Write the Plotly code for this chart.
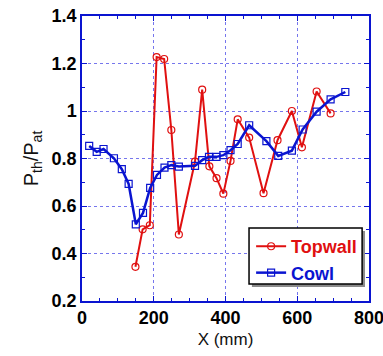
import plotly.graph_objects as go

cowl_x = [20, 41, 60, 89, 111, 130, 150, 170, 190, 209, 230, 249, 270, 315, 335, 354, 375, 394, 414, 434, 466, 514, 547, 585, 615, 654, 693, 734]
cowl_y = [0.853, 0.828, 0.840, 0.801, 0.755, 0.693, 0.523, 0.571, 0.676, 0.731, 0.762, 0.772, 0.766, 0.769, 0.793, 0.807, 0.807, 0.814, 0.835, 0.861, 0.940, 0.873, 0.811, 0.833, 0.922, 0.997, 1.049, 1.080]

top_x = [149, 169, 189, 208, 229, 249, 270, 315, 335, 355, 375, 394, 414, 434, 466, 506, 545, 585, 613, 654, 693]
top_y = [0.344, 0.502, 0.519, 1.227, 1.219, 0.920, 0.480, 0.787, 1.090, 0.767, 0.717, 0.652, 0.790, 0.965, 0.888, 0.654, 0.877, 1.000, 0.847, 1.082, 0.990]

red = "#e01010"
blue = "#0a14d0"

fig = go.Figure()
fig.add_trace(go.Scatter(x=top_x, y=top_y, name=f"<span style='color:{red}'>Topwall</span>", mode="lines+markers",
                         line=dict(color=red, width=2),
                         marker=dict(symbol="circle-open", size=7, color=red, line=dict(width=1.2))))
fig.add_trace(go.Scatter(x=cowl_x, y=cowl_y, name=f"<span style='color:{blue}'>Cowl</span>", mode="lines+markers",
                         line=dict(color=blue, width=2.5),
                         marker=dict(symbol="square-open", size=7, color=blue, line=dict(width=1.2))))

axis_common = dict(showline=True, linecolor=blue, linewidth=1.5, mirror="ticks",
                   ticks="inside", tickcolor=blue, ticklen=5, automargin=False,
                   ticklabeloverflow="allow",
                   showgrid=True, gridcolor="rgba(60,60,230,0.7)", griddash="dot", gridwidth=1,
                   zeroline=False,
                   tickfont=dict(family="Liberation Sans", size=18, color="black", weight="bold"))

fig.update_xaxes(range=[0, 800], dtick=200, **axis_common,
                 minor=dict(dtick=50, ticks="inside", ticklen=3, tickcolor=blue, showgrid=False),
                 title=dict(text="X (mm)", font=dict(family="Liberation Sans", size=17, color="#111"), standoff=6))
fig.update_yaxes(range=[0.2, 1.4], dtick=0.2, **axis_common,
                 minor=dict(dtick=0.1, ticks="inside", ticklen=3, tickcolor=blue, showgrid=False),
                 title=dict(text="P<sub>th</sub>/P<sub>at</sub>", font=dict(family="Liberation Sans", size=20, color="#111"), standoff=8))

# legend box with drop shadow (drawn as shapes, legend itself transparent)
fig.add_shape(type="rect", xref="paper", yref="paper", x0=0.592, x1=0.986, y0=0.049, y1=0.246,
              fillcolor="#8a8a8a", line=dict(width=0), layer="above")
fig.add_shape(type="rect", xref="paper", yref="paper", x0=0.582, x1=0.976, y0=0.060, y1=0.256,
              fillcolor="white", line=dict(color="black", width=1.5), layer="above")

fig.update_layout(
    width=383, height=356,
    margin=dict(l=82, r=14, t=16, b=55),
    plot_bgcolor="white", paper_bgcolor="white",
    showlegend=True,
    legend=dict(x=0.976, y=0.256, xanchor="right", yanchor="top",
                bgcolor="rgba(0,0,0,0)", borderwidth=0,
                font=dict(family="Liberation Sans", size=18, weight="bold"),
                itemwidth=30, tracegroupgap=0),
)

fig.write_html("out.html", config={"displayModeBar": False},
               post_script="document.body.style.margin='0';")
